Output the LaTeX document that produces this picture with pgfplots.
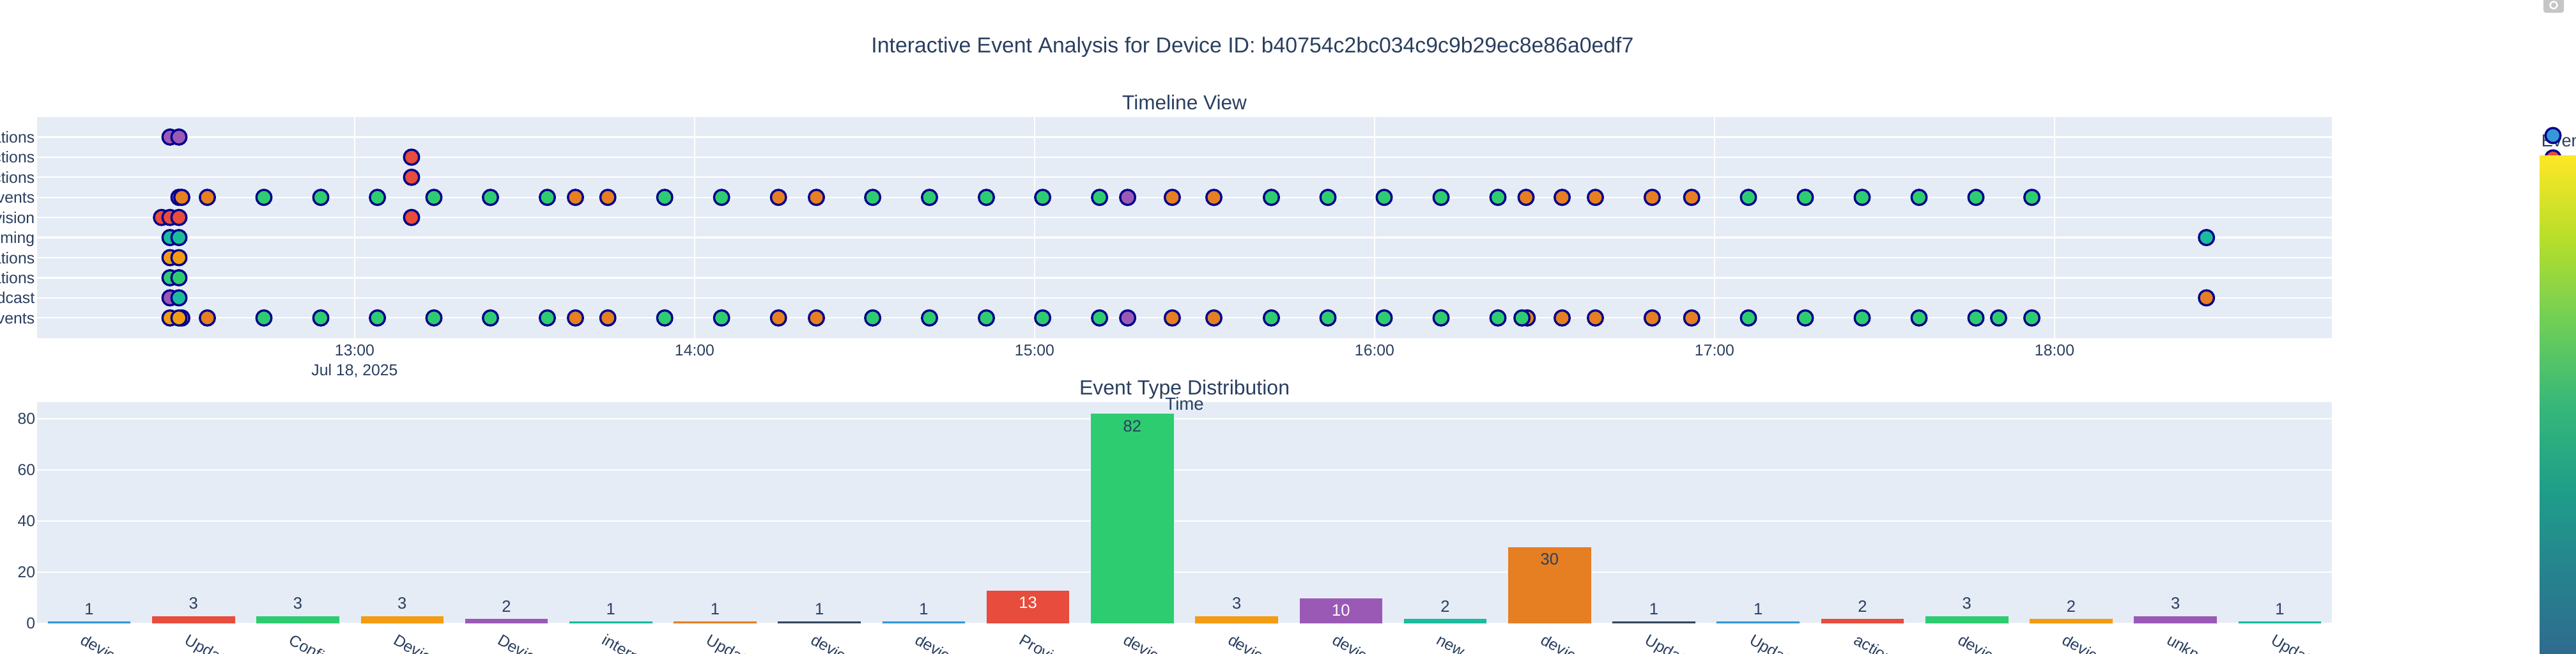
\documentclass[border=0pt]{standalone}
\usepackage{fontspec}
\setmainfont{Liberation Sans}
\usepackage{pgfplots}
\pgfplotsset{compat=1.18}
\pgfplotsset{/pgf/number format/assume math mode=true}
\definecolor{bg}{HTML}{E5ECF6}
\definecolor{fg}{HTML}{2A3F5F}
\definecolor{cB}{HTML}{3498DB}
\definecolor{cR}{HTML}{E74C3C}
\definecolor{cG}{HTML}{2ECC71}
\definecolor{cO}{HTML}{F39C12}
\definecolor{cP}{HTML}{9B59B6}
\definecolor{cT}{HTML}{1ABC9C}
\definecolor{cD}{HTML}{E67E22}
\definecolor{cN}{HTML}{34495E}
\definecolor{edge}{HTML}{00008B}
\definecolor{v1}{HTML}{FDE725}
\definecolor{v2}{HTML}{B5DE2B}
\definecolor{v3}{HTML}{6ECE58}
\definecolor{v4}{HTML}{35B779}
\definecolor{v5}{HTML}{1F9E89}
\definecolor{v6}{HTML}{26828E}
\definecolor{v7}{HTML}{30698E}

\pgfplotstableread{
x y c
12.4568 9 P
12.4831 9 P
12.4831 6 P
12.4568 1 P
15.2737 6 P
15.2737 0 P
12.4915 6 D
12.5667 6 D
13.6494 6 D
13.7447 6 D
14.2466 6 D
14.3581 6 D
15.4049 6 D
15.5273 6 D
16.4455 6 D
16.5517 6 D
16.6494 6 D
16.8165 6 D
16.9327 6 D
12.4915 0 D
12.5667 0 D
13.6494 0 D
13.7447 0 D
14.2466 0 D
14.3581 0 D
15.4049 0 D
15.5273 0 D
16.4490 0 D
16.5517 0 D
16.6494 0 D
16.8165 0 D
16.9327 0 D
18.4468 1 D
13.1673 8 R
13.1673 7 R
12.4318 5 R
12.4568 5 R
12.4831 5 R
13.1673 5 R
12.4568 3 O
12.4831 3 O
12.4568 0 O
12.4831 0 O
12.4568 2 G
12.4831 2 G
12.7331 6 G
12.9004 6 G
13.0669 6 G
13.2331 6 G
13.3994 6 G
13.5667 6 G
13.9120 6 G
14.0793 6 G
14.5237 6 G
14.6908 6 G
14.8581 6 G
15.0237 6 G
15.1910 6 G
15.6964 6 G
15.8628 6 G
16.0282 6 G
16.1955 6 G
16.3628 6 G
17.0996 6 G
17.2669 6 G
17.4342 6 G
17.6015 6 G
17.7688 6 G
17.9333 6 G
12.7331 0 G
12.9004 0 G
13.0669 0 G
13.2331 0 G
13.3994 0 G
13.5667 0 G
13.9120 0 G
14.0793 0 G
14.5237 0 G
14.6908 0 G
14.8581 0 G
15.0237 0 G
15.1910 0 G
15.6964 0 G
15.8628 0 G
16.0282 0 G
16.1955 0 G
16.3628 0 G
16.4335 0 G
17.0996 0 G
17.2669 0 G
17.4342 0 G
17.6015 0 G
17.7688 0 G
17.8355 0 G
17.9333 0 G
12.4568 4 T
12.4831 4 T
18.4468 4 T
12.4831 1 T
}\timeline

\begin{document}
\begin{tikzpicture}
\useasboundingbox (0pt,0pt) rectangle (1007.75pt,-255.75pt);

% ---------------- Timeline ----------------
\begin{axis}[
  at={(14.5pt,-45.75pt)}, anchor=north west,
  scale only axis, width=897.75pt, height=86.45pt,
  xmin=12.0658, xmax=18.8158, ymin=-1, ymax=10,
  axis background/.style={fill=bg},
  axis line style={draw=none},
  major tick length=0pt,
  xtick={13,14,15,16,17,18},
  xticklabels={{13:00\\Jul 18, 2025},14:00,15:00,16:00,17:00,18:00},
  ytick={0,...,9},
  yticklabels={vents,dcast,ations,ations,oming,vision,vents,ctions,ctions,ations},
  grid=major, major grid style={white, line width=0.55pt},
  tick label style={font=\fontsize{6.2}{7.6}\selectfont, text=fg},
  xticklabel style={align=center, anchor=north, inner sep=0pt, yshift=-2.5pt},
  yticklabel style={anchor=base east, inner sep=0pt, xshift=-0.75pt, yshift=-2.25pt},
]
\addplot[scatter, only marks, scatter src=explicit symbolic,
  mark size=2.95pt, line width=0.85pt,
  scatter/classes={
    P={mark=*, fill=cP, draw=edge},
    D={mark=*, fill=cD, draw=edge},
    R={mark=*, fill=cR, draw=edge},
    O={mark=*, fill=cO, draw=edge},
    G={mark=*, fill=cG, draw=edge},
    T={mark=*, fill=cT, draw=edge}}]
  table[x=x, y=y, meta=c] {\timeline};
\end{axis}

% ---------------- Bar chart ----------------
\begin{axis}[
  at={(14.5pt,-157.25pt)}, anchor=north west,
  scale only axis, width=897.75pt, height=86.5pt,
  xmin=-0.5, xmax=21.5, ymin=0, ymax=86.5,
  axis background/.style={fill=bg},
  axis line style={draw=none},
  major tick length=0pt,
  xtick={0,...,21},
  xticklabels={device, Update, Config, Device, Device, interna, Update, device, device, Provisi, device, device, device, new\_d, device, Update, Update, action, device, device, unkno, Update},
  ytick={0,20,40,60,80},
  ymajorgrids, major grid style={white, line width=0.55pt},
  tick label style={font=\fontsize{6.2}{7.4}\selectfont, text=fg},
  yticklabel style={anchor=base east, inner sep=0pt, xshift=-0.5pt, yshift=-2.1pt},
  xticklabel style={inner sep=0pt, xshift=-1.6pt, yshift=-3.6pt, rotate=-30, anchor=north west},
]
\pgfplotsset{bstyle/.style={ybar, bar width=0.8, bar shift=0pt, draw=bg, line width=0.25pt, fill=#1}}
\addplot[bstyle=cB] coordinates {(0,1) (8,1) (16,1)};
\addplot[bstyle=cR] coordinates {(1,3) (9,13) (17,2)};
\addplot[bstyle=cG] coordinates {(2,3) (10,82) (18,3)};
\addplot[bstyle=cO] coordinates {(3,3) (11,3) (19,2)};
\addplot[bstyle=cP] coordinates {(4,2) (12,10) (20,3)};
\addplot[bstyle=cT] coordinates {(5,1) (13,2) (21,1)};
\addplot[bstyle=cD] coordinates {(6,1) (14,30)};
\addplot[bstyle=cN] coordinates {(7,1) (15,1)};
% outside labels
\addplot[draw=none, mark=none, nodes near coords, point meta=y,
  every node near coord/.append style={anchor=south, inner sep=0pt, yshift=2.3pt, font=\fontsize{6.4}{7.6}\selectfont, text=fg}]
  coordinates {(0,1) (1,3) (2,3) (3,3) (4,2) (5,1) (6,1) (7,1) (8,1) (11,3) (13,2) (15,1) (16,1) (17,2) (18,3) (19,2) (20,3) (21,1)};
% inside labels, dark
\addplot[draw=none, mark=none, nodes near coords, point meta=y,
  every node near coord/.append style={anchor=north, inner sep=0pt, yshift=-2.5pt, font=\fontsize{6.4}{7.6}\selectfont, text=fg}]
  coordinates {(10,82) (14,30)};
% inside labels, white
\addplot[draw=none, mark=none, nodes near coords, point meta=y,
  every node near coord/.append style={anchor=north, inner sep=0pt, yshift=-2.5pt, font=\fontsize{6.4}{7.6}\selectfont, text=white}]
  coordinates {(9,13) (12,10)};
\end{axis}

% ---------------- Titles ----------------
\node[anchor=base, inner sep=0pt, font=\fontsize{8.45}{10}\selectfont, text=fg] at (490pt,-20.7pt) {Interactive Event Analysis for Device ID: b40754c2bc034c9c9b29ec8e86a0edf7};
\node[anchor=base, inner sep=0pt, font=\fontsize{7.9}{9}\selectfont, text=fg] at (463.4pt,-42.9pt) {Timeline View};
\node[anchor=base, inner sep=0pt, font=\fontsize{8}{9}\selectfont, text=fg] at (463.4pt,-154.5pt) {Event Type Distribution};
\node[anchor=base, inner sep=0pt, font=\fontsize{6.9}{8}\selectfont, text=fg] at (463.4pt,-160.5pt) {Time};

% ---------------- Legend fragment and colorbar ----------------
\node[anchor=base west, inner sep=0pt, font=\fontsize{6.8}{8}\selectfont, text=fg] at (994pt,-57.5pt) {Event Type};
\filldraw[fill=cB, draw=edge, line width=0.85pt] (998.75pt,-53pt) circle (2.95pt);
\filldraw[fill=cR, draw=edge, line width=0.85pt] (998.75pt,-61.75pt) circle (2.95pt);
\shade[top color=v1, bottom color=v2] (993.5pt,-61pt) rectangle (1012pt,-93.75pt);
\shade[top color=v2, bottom color=v3] (993.5pt,-93.75pt) rectangle (1012pt,-126.5pt);
\shade[top color=v3, bottom color=v4] (993.5pt,-126.5pt) rectangle (1012pt,-159.25pt);
\shade[top color=v4, bottom color=v5] (993.5pt,-159.25pt) rectangle (1012pt,-192pt);
\shade[top color=v5, bottom color=v6] (993.5pt,-192pt) rectangle (1012pt,-225pt);
\shade[top color=v6, bottom color=v7] (993.5pt,-225pt) rectangle (1012pt,-258pt);

% camera icon
\fill[gray!45, rounded corners=1pt] (995pt,1pt) rectangle (1003pt,-5pt);
\draw[white, line width=0.6pt] (999pt,-2pt) circle (1.4pt);
\end{tikzpicture}
\end{document}
